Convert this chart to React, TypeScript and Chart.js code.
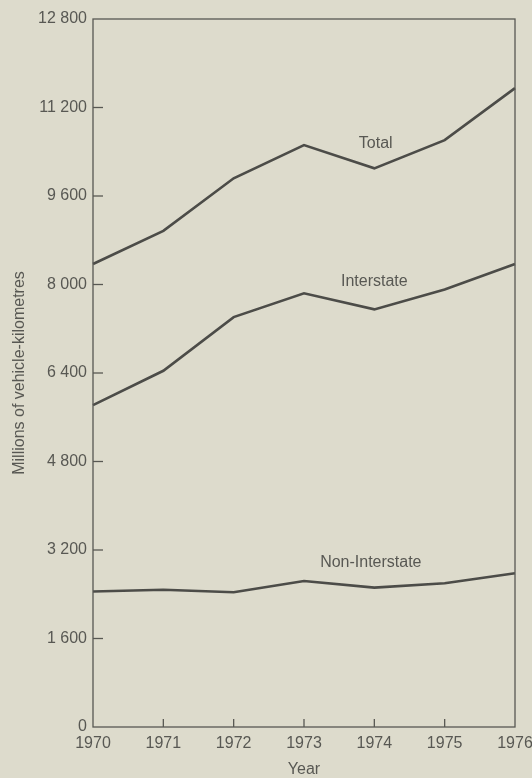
import React, { useEffect, useRef } from "react";
import { Chart, registerables } from "chart.js";

Chart.register(...registerables);

const years = ["1970", "1971", "1972", "1973", "1974", "1975", "1976"];
const total = [8370, 8970, 9920, 10520, 10100, 10610, 11550];
const interstate = [5820, 6440, 7410, 7840, 7550, 7910, 8370];
const nonInterstate = [2450, 2480, 2435, 2640, 2520, 2600, 2780];
const seriesNames = ["Total", "Interstate", "Non-Interstate"];
const labelAnchorX = [4.02, 4.0, 3.95];
const labelAnchorY = [10540, 8050, 2965];

const BG = "#dddbcc";
const INK = "#585853";
const LINE = "#4c4c48";
const FONT = "'Liberation Sans', Arial, sans-serif";

const fmt = (v: number) => {
  const s = String(Math.round(v));
  return s.replace(/\B(?=(\d{3})+(?!\d))/g, " ");
};

const framePlugin = {
  id: "frame",
  beforeDraw(chart: any) {
    const { ctx, width, height } = chart;
    ctx.save();
    ctx.fillStyle = BG;
    ctx.fillRect(0, 0, width, height);
    ctx.restore();
  },
  afterDatasetsDraw(chart: any) {
    const { ctx, chartArea } = chart;
    const { left, right, top, bottom } = chartArea;
    const xs = chart.scales.x;
    const ys = chart.scales.y;
    ctx.save();
    ctx.strokeStyle = INK;
    ctx.lineWidth = 1.3;
    ctx.strokeRect(left, top, right - left, bottom - top);
    ys.ticks.forEach((t: any) => {
      const py = ys.getPixelForValue(t.value);
      if (t.value === 0 || t.value === ys.max) return;
      ctx.beginPath();
      ctx.moveTo(left, py);
      ctx.lineTo(left + 10, py);
      ctx.stroke();
    });
    years.forEach((_, i) => {
      if (i === 0 || i === years.length - 1) return;
      const px = xs.getPixelForValue(i);
      ctx.beginPath();
      ctx.moveTo(px, bottom);
      ctx.lineTo(px, bottom - 8);
      ctx.stroke();
    });
    ctx.fillStyle = INK;
    ctx.font = `16px ${FONT}`;
    ctx.textAlign = "center";
    ctx.textBaseline = "middle";
    seriesNames.forEach((n, i) => {
      ctx.fillText(n, xs.getPixelForValue(labelAnchorX[i]), ys.getPixelForValue(labelAnchorY[i]));
    });
    ctx.restore();
  },
};

export default function App() {
  const ref = useRef<HTMLCanvasElement | null>(null);
  useEffect(() => {
    document.body.style.margin = "0";
    document.body.style.background = BG;
    if (!ref.current) return;
    const mk = (data: number[]) => ({
      data,
      borderColor: LINE,
      borderWidth: 2.6,
      pointRadius: 0,
      tension: 0,
      fill: false,
    });
    const chart = new Chart(ref.current, {
      type: "line",
      data: {
        labels: years,
        datasets: [mk(total), mk(interstate), mk(nonInterstate)],
      },
      options: {
        animation: false,
        responsive: false,
        maintainAspectRatio: false,
        layout: { padding: { top: 19, right: 17, left: 0, bottom: 0 } },
        plugins: { legend: { display: false }, tooltip: { enabled: false } },
        scales: {
          x: {
            type: "category",
            offset: false,
            grid: { display: false, drawTicks: false },
            border: { display: false },
            ticks: {
              color: INK,
              font: { family: FONT, size: 16 },
              padding: 7,
              maxRotation: 0,
              autoSkip: false,
            },
            title: {
              display: true,
              text: "Year",
              color: INK,
              font: { family: FONT, size: 16, lineHeight: 1 },
              padding: { top: 0, bottom: 0 },
            },
            afterFit: (s: any) => {
              s.height = 51;
              s.paddingRight = 0;
              s.paddingLeft = 0;
            },
          },
          y: {
            min: 0,
            max: 12800,
            grid: { display: false, drawTicks: false },
            border: { display: false },
            ticks: {
              stepSize: 1600,
              color: INK,
              font: { family: FONT, size: 16 },
              padding: 6,
              callback: (v: any) => fmt(Number(v)),
            },
            title: {
              display: true,
              text: "Millions of vehicle-kilometres",
              color: INK,
              font: { family: FONT, size: 16, lineHeight: 1.2 },
              padding: { top: 10, bottom: 0 },
            },
            afterFit: (s: any) => {
              s.width = 93;
            },
          },
        },
      },
      plugins: [framePlugin],
    });
    return () => chart.destroy();
  }, []);
  return (
    <div style={{ width: 532, height: 778, background: BG }}>
      <canvas ref={ref} width={532} height={778} style={{ display: "block" }} />
    </div>
  );
}
